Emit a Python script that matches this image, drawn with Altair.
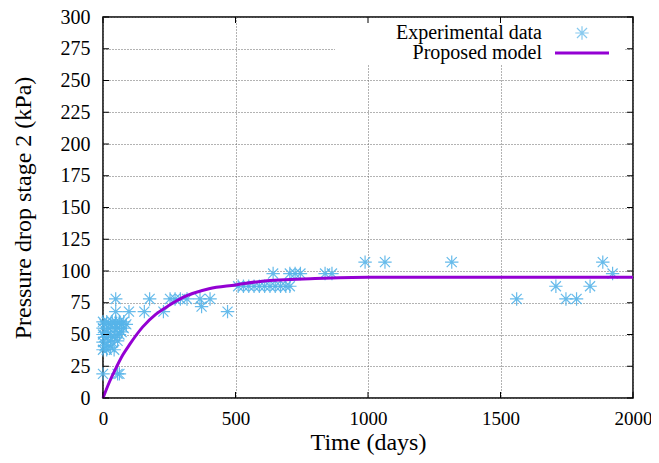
import altair as alt
import pandas as pd

# Experimental data (time in days, pressure drop in kPa)
exp_t = [0, 0, 0, 0, 0, 0, 6, 6, 6, 14, 14, 14, 20, 20, 28, 28, 28, 35, 35,
         42, 42, 42, 48, 48, 48, 48, 48, 55, 55, 55, 62, 62, 62, 70, 70, 78, 78, 88,
         98, 156, 176, 228, 253, 272, 292, 317, 366, 372, 404, 470,
         510, 530, 550, 570, 590, 610, 630, 650, 670, 690, 705,
         642, 705, 725, 745, 838, 864,
         989, 1064, 1316, 1886,
         1561, 1709, 1747, 1787, 1838, 1923]
exp_v = [19, 38, 44, 50, 55, 60, 41, 48, 58, 38, 52, 60, 45, 55, 40, 50, 58, 44, 60,
         48, 55, 38, 50, 58, 60, 68, 78, 19, 45, 55, 50, 60, 19, 52, 58, 55, 60, 58,
         68, 68, 78, 68, 78, 78, 78, 78, 78, 72, 78, 68,
         88, 88, 88, 88, 88, 88, 88, 88, 88, 88, 88,
         98, 98, 98, 98, 98, 98,
         107, 107, 107, 107,
         78, 88, 78, 78, 88, 98]

# Proposed model curve
model_t = [0, 25, 50, 75, 100, 150, 200, 250, 300, 400, 500, 600, 800, 1000, 1500, 2000]
model_v = [0, 13, 24, 34, 42, 56, 66, 73, 79, 86, 89, 92, 94, 95, 95, 95]

x_ticks = [0, 500, 1000, 1500, 2000]
y_ticks = list(range(0, 301, 25))

legend_labels = ["Experimental data", "Proposed model"]

FONT = "Liberation Serif"
PTS = "#56b4e9"
LINE = "#9400d3"

exp_df = pd.DataFrame({"t": exp_t, "v": exp_v})
model_df = pd.DataFrame({"t": model_t, "v": model_v})
xt_df = pd.DataFrame({"t": x_ticks})
yt_df = pd.DataFrame({"v": y_ticks})
one = pd.DataFrame({"a": [0]})

xs = alt.Scale(domain=[0, 2000], nice=False)
ys = alt.Scale(domain=[0, 300], nice=False)

xa = alt.Axis(values=x_ticks, format="d", grid=True, gridDash=[1, 2],
              gridColor="#666", gridWidth=1, tickSize=0, domain=False,
              labelPadding=11, labelOverlap=False, labelFlush=False, labelFontSize=19,
              titleBaseline="alphabetic", titleY=51)
ya = alt.Axis(values=y_ticks, format="d", grid=True, gridDash=[1, 2],
              gridColor="#666", gridWidth=1, tickSize=0, domain=False,
              labelPadding=13, labelOverlap=False, labelFlush=False,
              titleBaseline="alphabetic", titleX=-73)


def X(field):
    return alt.X(field, scale=xs, axis=xa, title="Time (days)")


def Y(field):
    return alt.Y(field, scale=ys, axis=ya, title="Pressure drop stage 2 (kPa)")


star = "M-1,0L1,0M0,-1L0,1M-0.75,-0.75L0.75,0.75M-0.75,0.75L0.75,-0.75"

points = alt.Chart(exp_df).mark_point(
    shape=star, size=180, stroke=PTS, strokeWidth=1.2, filled=False, opacity=0.9
).encode(x=X("t:Q"), y=Y("v:Q"))

curve = alt.Chart(model_df).mark_line(
    color=LINE, strokeWidth=3, interpolate="monotone"
).encode(x=X("t:Q"), y=Y("v:Q"))

box = alt.Chart(one).mark_rect(fill="white").encode(
    x=alt.value(232), x2=alt.value(522), y=alt.value(1), y2=alt.value(48))

tick_kw = dict(color="black", strokeWidth=1)
xb = alt.Chart(xt_df).mark_rule(**tick_kw).encode(
    x=X("t:Q"), y=alt.value(381), y2=alt.value(375))
xtp = alt.Chart(xt_df).mark_rule(**tick_kw).encode(
    x=X("t:Q"), y=alt.value(0), y2=alt.value(6))
yl = alt.Chart(yt_df).mark_rule(**tick_kw).encode(
    y=Y("v:Q"), x=alt.value(0), x2=alt.value(6))
yr = alt.Chart(yt_df).mark_rule(**tick_kw).encode(
    y=Y("v:Q"), x=alt.value(530), x2=alt.value(524))

txt_kw = dict(align="right", baseline="middle", font=FONT, fontSize=20, color="black")
leg_t1 = alt.Chart(one).mark_text(text=legend_labels[0], **txt_kw).encode(
    x=alt.value(439), y=alt.value(16))
leg_t2 = alt.Chart(one).mark_text(text=legend_labels[1], **txt_kw).encode(
    x=alt.value(439), y=alt.value(36))

leg_star = alt.Chart(one).mark_point(
    shape=star, size=180, stroke=PTS, strokeWidth=1.2, filled=False
).encode(x=alt.value(479), y=alt.value(16))
leg_line = alt.Chart(one).mark_rule(color=LINE, strokeWidth=3).encode(
    x=alt.value(452), x2=alt.value(506), y=alt.value(36))

chart = alt.layer(points, curve, box, xb, xtp, yl, yr,
                  leg_t1, leg_t2, leg_star, leg_line).properties(
    width=530, height=381,
    padding={"left": 95, "top": 9, "right": 18, "bottom": 57},
    autosize="none",
).configure_view(stroke="black", strokeWidth=1.5).configure_axis(
    labelFont=FONT, labelFontSize=20, labelColor="black",
    titleFont=FONT, titleFontSize=24, titleFontWeight="normal", titleColor="black",
)

chart.save("out.html", embed_options={"renderer": "svg", "actions": False})
